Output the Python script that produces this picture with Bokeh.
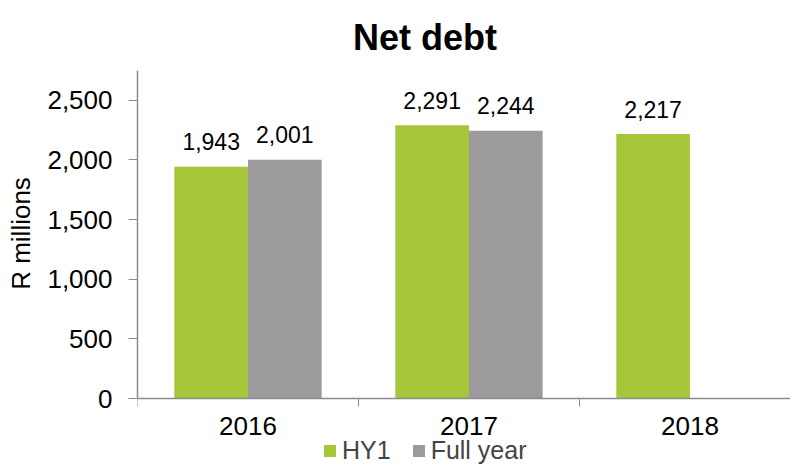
import numpy as np
from bokeh.plotting import figure
from bokeh.models import Range1d, FixedTicker, Legend, LegendItem, ColumnDataSource, NumeralTickFormatter, Label
from bokeh.core.properties import value
from bokeh.embed import file_html
from bokeh.resources import INLINE

categories = ["2016", "2017", "2018"]
hy1 = [1943, 2291, 2217]
full_year = [2001, 2244, None]
y_ticks = [0, 500, 1000, 1500, 2000, 2500]
title_text = "Net debt"

GREEN = "#A6C639"
GRAY = "#9C9A9D"
AXIS = "#8C8C8C"
FONT = "Liberation Sans"

idx = np.arange(len(categories))
bw = 1 / 3
hy_src = ColumnDataSource(dict(x=idx + 0.5 - bw / 2, top=hy1,
                               lab=[f"{v:,}" for v in hy1]))
fy_pairs = [(i, v) for i, v in zip(idx, full_year) if v is not None]
fy_src = ColumnDataSource(dict(x=[i + 0.5 + bw / 2 for i, _ in fy_pairs],
                               top=[v for _, v in fy_pairs],
                               lab=[f"{v:,}" for _, v in fy_pairs]))

YMAX = 2750          # end of the visible value axis
FRAME_H = 466        # frame spans the whole canvas height (title and legend live inside it)
ZERO_PX = 398        # pixel row of the zero line from the top
AXIS_H = 328         # pixel length of the value axis
upp = YMAX / AXIS_H
y_end = upp * ZERO_PX
y_start = -upp * (FRAME_H - ZERO_PX)

p = figure(frame_width=653, frame_height=FRAME_H, output_backend="svg", toolbar_location=None,
           x_range=Range1d(0, 2.955), y_range=Range1d(y_start, y_end),
           min_border_left=137, min_border_right=0, min_border_top=0, min_border_bottom=0)
p.outline_line_color = None
p.grid.visible = False
p.background_fill_color = "white"
p.border_fill_color = "white"

r1 = p.vbar(x="x", top="top", bottom=0, width=bw, source=hy_src, fill_color=GREEN, line_color=None)
r2 = p.vbar(x="x", top="top", bottom=0, width=bw, source=fy_src, fill_color=GRAY, line_color=None)

for src in (hy_src, fy_src):
    p.text(x="x", y="top", text="lab", source=src, text_align="center", text_baseline="alphabetic",
           y_offset=-25, text_font=value(FONT), text_font_size="23px", text_color="black")

# chart title
p.add_layout(Label(x=1.5, y=YMAX, x_offset=-44, y_offset=33, text=title_text,
                   text_align="center", text_baseline="alphabetic",
                   text_font=FONT, text_font_size="36px", text_font_style="bold",
                   text_color="black"))

# x axis, drawn at the zero line inside the frame
xa = p.xaxis[0]
xa.fixed_location = 0
xa.ticker = FixedTicker(ticks=list(idx + 0.5), minor_ticks=list(range(len(categories) + 1)))
xa.major_label_overrides = {float(i + 0.5): c for i, c in enumerate(categories)}
xa.major_tick_line_color = None
xa.major_tick_out = 0
xa.major_tick_in = 0
xa.minor_tick_out = 8
xa.minor_tick_in = 0
xa.minor_tick_line_color = AXIS
xa.axis_line_color = AXIS
xa.axis_line_width = 1.5
xa.major_label_standoff = 10
xa.major_label_text_font = FONT
xa.major_label_text_font_size = "26px"
xa.major_label_text_color = "black"

ya = p.yaxis[0]
ya.ticker = FixedTicker(ticks=y_ticks, minor_ticks=[])
ya.formatter = NumeralTickFormatter(format="0,0")
ya.bounds = (0, YMAX)
ya.axis_line_color = AXIS
ya.axis_line_width = 1.5
ya.major_tick_line_color = AXIS
ya.major_tick_out = 9
ya.major_tick_in = 0
ya.minor_tick_line_color = None
ya.major_label_standoff = 16
ya.major_label_text_font = FONT
ya.major_label_text_font_size = "26px"
ya.major_label_text_color = "black"
ya.axis_label = "R millions"
ya.axis_label_text_font = FONT
ya.axis_label_text_font_size = "26px"
ya.axis_label_text_font_style = "normal"
ya.axis_label_text_color = "black"
ya.axis_label_standoff = 8

legend = Legend(items=[LegendItem(label="HY1", renderers=[r1]),
                       LegendItem(label="Full year", renderers=[r2])],
                location=(185, 1), orientation="horizontal",
                border_line_color=None, background_fill_alpha=0,
                padding=0, margin=0, spacing=20, label_standoff=5,
                glyph_width=15, glyph_height=15, label_height=20,
                label_text_font=FONT, label_text_font_size="25px")
p.add_layout(legend, "center")

open("out.html", "w").write(file_html(p, INLINE))
